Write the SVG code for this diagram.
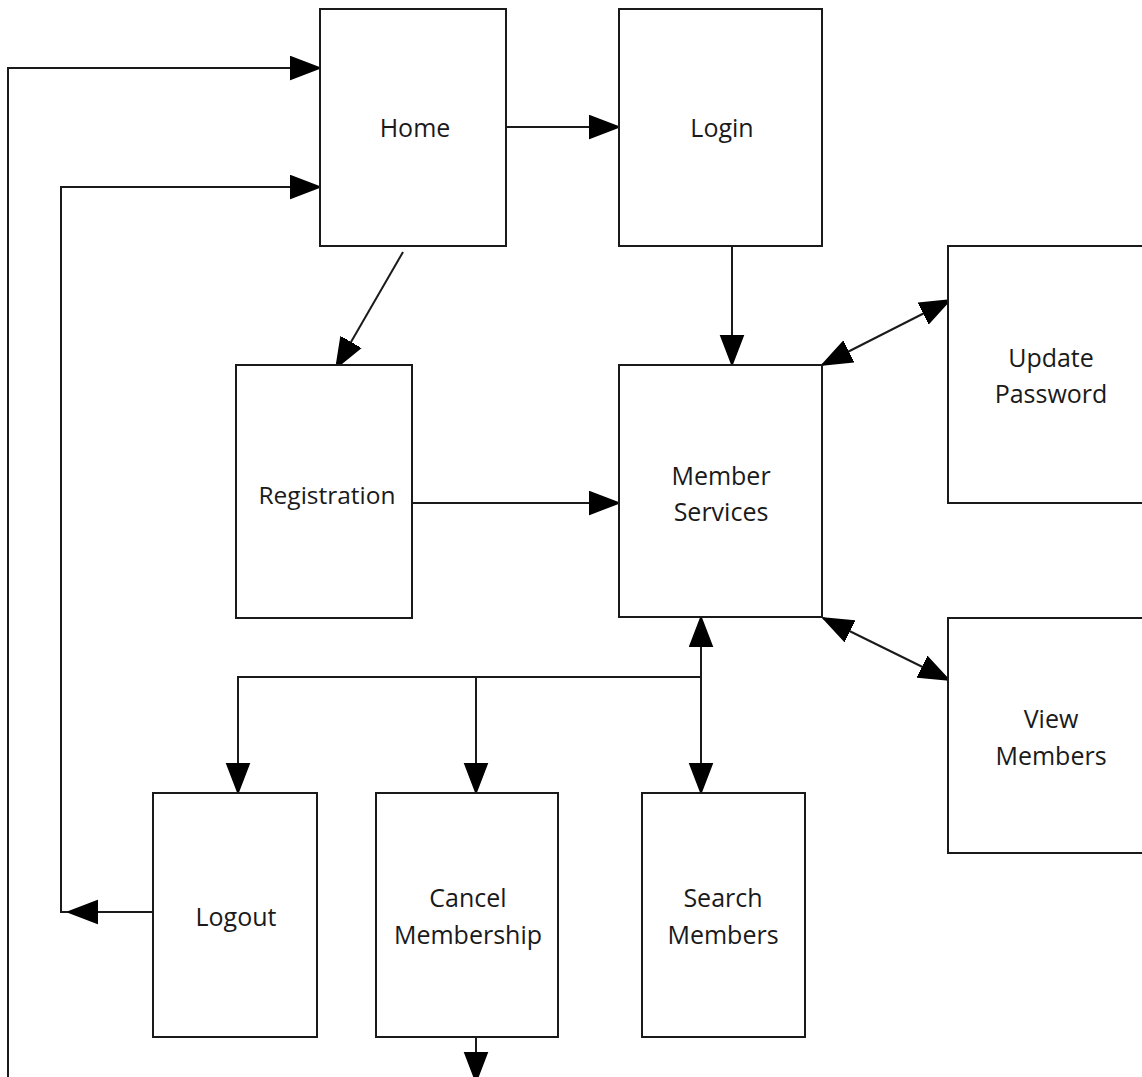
<svg xmlns="http://www.w3.org/2000/svg" width="1142" height="1077" viewBox="0 0 1142 1077">
  <style>
    .box { fill: #ffffff; stroke: #1a1a1a; stroke-width: 2; }
    .lbl { font-family: "Open Sans", "DejaVu Sans", sans-serif; font-size: 25px; fill: #1a1a1a; text-anchor: middle; }
    .small { font-size: 24.5px; }
    .wire { fill: none; stroke: #1a1a1a; stroke-width: 2; }
    .end { marker-end: url(#head); }
    .both { marker-start: url(#head); marker-end: url(#head); }
  </style>
  <defs>
    <marker id="head" markerUnits="userSpaceOnUse" markerWidth="32" markerHeight="26" refX="30" refY="12.5" orient="auto-start-reverse" viewBox="0 0 32 26">
      <path d="M0,1 L30,12.5 L0,24 Z" fill="#000" stroke="#000" stroke-width="1.5" stroke-linejoin="round"/>
    </marker>
  </defs>
  <rect width="1142" height="1077" fill="#ffffff"/>

  <g id="connectors">
    <!-- outer loop back to Home -->
    <path class="wire end" d="M8,1090 V68 H320"/>
    <!-- Logout back to Home -->
    <path class="wire end" d="M153,912 H68"/>
    <path class="wire end" d="M68,912 H61 V187 H320"/>
    <!-- Home to Login -->
    <path class="wire end" d="M506,127 H619"/>
    <!-- Home to Registration -->
    <path class="wire end" d="M403,252 L336,368"/>
    <!-- Login to Member Services -->
    <path class="wire end" d="M732,246 V365"/>
    <!-- Registration to Member Services -->
    <path class="wire end" d="M412,503 H619"/>
    <!-- Member Services and Update Password -->
    <path class="wire both" d="M822,365 L950,300"/>
    <!-- Member Services and View Members -->
    <path class="wire both" d="M823,618 L949,680"/>
    <!-- Member Services and Search Members -->
    <path class="wire both" d="M701,617 V793"/>
    <!-- branches to Logout and Cancel Membership -->
    <path class="wire end" d="M701,677 H238 V793"/>
    <path class="wire end" d="M476,677 V793"/>
    <!-- Cancel Membership onward -->
    <path class="wire end" d="M476,1037 V1082"/>
  </g>

  <g id="home">
    <rect class="box" x="320" y="9" width="186" height="237"/>
    <text class="lbl" x="415" y="137">Home</text>
  </g>
  <g id="login">
    <rect class="box" x="619" y="9" width="203" height="237"/>
    <text class="lbl" x="722" y="137">Login</text>
  </g>
  <g id="update-password">
    <rect class="box" x="948" y="246" width="210" height="257"/>
    <text class="lbl" x="1051" y="367">Update</text>
    <text class="lbl" x="1051" y="403">Password</text>
  </g>
  <g id="registration">
    <rect class="box" x="236" y="365" width="176" height="253"/>
    <text class="lbl small" x="327" y="504">Registration</text>
  </g>
  <g id="member-services">
    <rect class="box" x="619" y="365" width="203" height="252"/>
    <text class="lbl" x="721" y="485">Member</text>
    <text class="lbl" x="721" y="521">Services</text>
  </g>
  <g id="view-members">
    <rect class="box" x="948" y="618" width="210" height="235"/>
    <text class="lbl" x="1051" y="728">View</text>
    <text class="lbl" x="1051" y="765">Members</text>
  </g>
  <g id="logout">
    <rect class="box" x="153" y="793" width="164" height="244"/>
    <text class="lbl" x="236" y="926">Logout</text>
  </g>
  <g id="cancel-membership">
    <rect class="box" x="376" y="793" width="182" height="244"/>
    <text class="lbl" x="468" y="907">Cancel</text>
    <text class="lbl" x="468" y="944">Membership</text>
  </g>
  <g id="search-members">
    <rect class="box" x="642" y="793" width="163" height="244"/>
    <text class="lbl" x="723" y="907">Search</text>
    <text class="lbl" x="723" y="944">Members</text>
  </g>
</svg>
